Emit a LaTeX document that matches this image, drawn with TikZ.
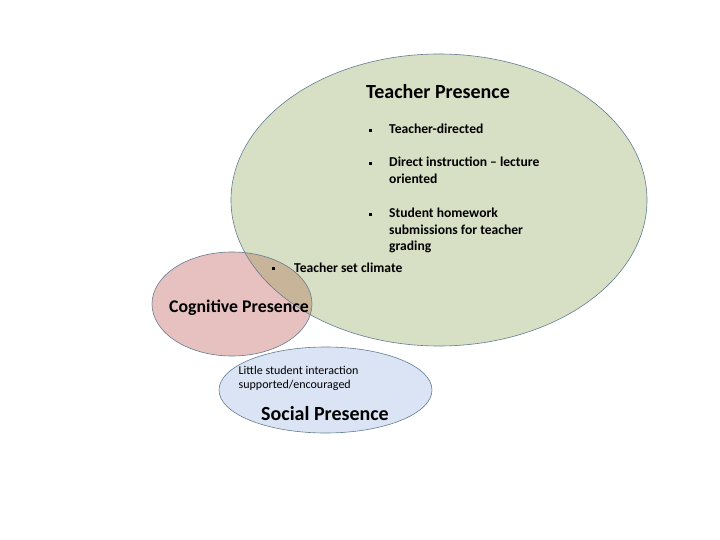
\documentclass[tikz,border=0pt]{standalone}
\usepackage{fontspec}
\setmainfont{Carlito}
\begin{document}
\begin{tikzpicture}[x=1pt,y=-1pt,
  title/.style={anchor=base west, inner sep=0pt, font=\bfseries\fontsize{20}{24}\selectfont},
  item/.style={anchor=base west, inner sep=0pt, font=\bfseries\fontsize{13.6}{16}\selectfont},
  small/.style={anchor=base west, inner sep=0pt, font=\fontsize{12}{14}\selectfont},
  bul/.style={fill=black, minimum width=3pt, minimum height=3pt, inner sep=0pt, outer sep=0pt}]
\definecolor{tgreen}{RGB}{215,223,196}
\definecolor{cpink}{RGB}{231,192,192}
\definecolor{overl}{RGB}{200,180,152}
\definecolor{sblue}{RGB}{218,228,244}
\definecolor{edge}{RGB}{100,125,145}
\useasboundingbox (0,0) rectangle (720,540);
% ellipses
\fill[tgreen] (439,200) ellipse [x radius=208pt, y radius=146pt];
\fill[cpink] (232,304) ellipse [x radius=80pt, y radius=52pt];
\begin{scope}
  \clip (439,200) ellipse [x radius=208pt, y radius=146pt];
  \fill[overl] (232,304) ellipse [x radius=80pt, y radius=52pt];
\end{scope}
\draw[draw=edge, line width=0.6pt] (439,200) ellipse [x radius=208pt, y radius=146pt];
\draw[draw=edge, line width=0.6pt] (232,304) ellipse [x radius=80pt, y radius=52pt];
\filldraw[fill=sblue, draw=edge, line width=0.6pt] (325.5,390) ellipse [x radius=106.5pt, y radius=43pt];
% texts
\node[title] (tp) at (366,99) {Teacher Presence};
\node[bul] (b1) at (370,130.5) {};
\node[item] (t1) at (389,134) {Teacher-directed};
\node[bul] (b2) at (370,163.5) {};
\node[item] (t2a) at (389,167) {Direct instruction – lecture};
\node[item] (t2b) at (389,184) {oriented};
\node[bul] (b3) at (370,214.5) {};
\node[item] (t3a) at (389,218) {Student homework};
\node[item] (t3b) at (389,234.5) {submissions for teacher};
\node[item] (t3c) at (389,251) {grading};
\node[bul] (b4) at (273,268.5) {};
\node[item] (t4) at (294,272) {Teacher set climate};
\node[title, font=\bfseries\fontsize{17.8}{21}\selectfont] (cp) at (169,312) {Cognitive Presence};
\node[small] (s1) at (238.5,374.5) {Little student interaction};
\node[small] (s2) at (238.5,388) {supported/encouraged};
\node[title] (sp) at (261,420) {Social Presence};
\end{tikzpicture}
\end{document}
